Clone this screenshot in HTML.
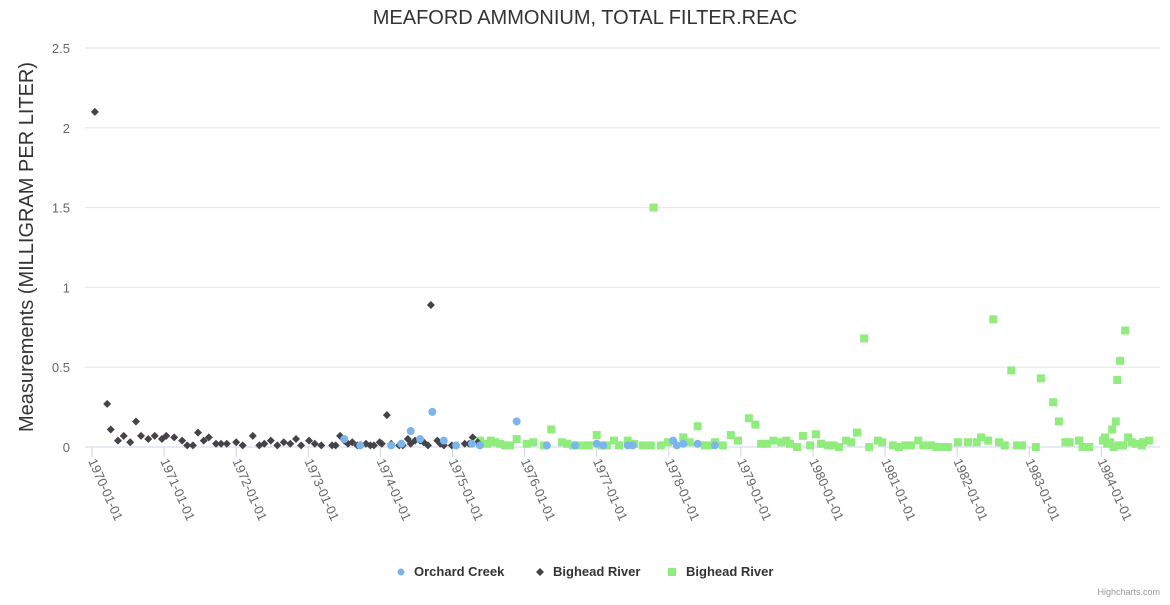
<!DOCTYPE html>
<html><head><meta charset="utf-8"><style>
body{margin:0;background:#fff;font-family:"Liberation Sans",sans-serif;}
svg text{font-family:"Liberation Sans",sans-serif;}
</style></head><body>
<svg id="chart" width="1170" height="600" xmlns="http://www.w3.org/2000/svg">
<rect width="1170" height="600" fill="#fff"/>
<text x="585" y="24" text-anchor="middle" font-size="20" fill="#333">MEAFORD AMMONIUM, TOTAL FILTER.REAC</text>
<text transform="translate(33,247) rotate(-90)" text-anchor="middle" font-size="20" fill="#333">Measurements (MILLIGRAM PER LITER)</text>
<g id="grid"></g><g id="xaxis"></g><g id="series"></g>
<g>
<g><circle cx="401" cy="572" r="3.5" fill="#7cb5ec"/><text x="414" y="576" font-size="13" font-weight="bold" fill="#333">Orchard Creek</text></g>
<g><path d="M540 568 L544 572 L540 576 L536 572 Z" fill="#434348"/><text x="553" y="576" font-size="13" font-weight="bold" fill="#333">Bighead River</text></g>
<g><rect x="668" y="568" width="8" height="8" fill="#90ed7d"/><text x="686" y="576" font-size="13" font-weight="bold" fill="#333">Bighead River</text></g>
</g>
<text x="1160" y="595" text-anchor="end" font-size="9" fill="#999">Highcharts.com</text>
</svg>
<script>
// x values: years since 1970-01-01
const yTicks=[0,0.5,1,1.5,2,2.5];
const yTickLabels=["0","0.5","1","1.5","2","2.5"];
const xTickYears=[0,1,2,3,4,5,6,7,8,9,10,11,12,13,14];
const xTickLabels=["1970-01-01","1971-01-01","1972-01-01","1973-01-01","1974-01-01","1975-01-01","1976-01-01","1977-01-01","1978-01-01","1979-01-01","1980-01-01","1981-01-01","1982-01-01","1983-01-01","1984-01-01"];
const orchardX=[3.50,3.72,4.15,4.29,4.42,4.55,4.72,4.88,5.05,5.27,5.38,5.89,6.31,6.70,7.00,7.09,7.43,7.50,8.06,8.11,8.20,8.40,8.64];
const orchardY=[0.05,0.01,0.01,0.02,0.1,0.05,0.22,0.04,0.01,0.02,0.01,0.16,0.01,0.01,0.02,0.01,0.01,0.01,0.04,0.01,0.02,0.02,0.01];
const bigheadAX=[0.04,0.21,0.26,0.36,0.44,0.53,0.61,0.68,0.78,0.87,0.97,1.03,1.14,1.25,1.32,1.40,1.47,1.55,1.62,1.72,1.79,1.87,2.00,2.09,2.23,2.32,2.39,2.48,2.57,2.66,2.75,2.83,2.90,3.01,3.09,3.18,3.33,3.38,3.44,3.50,3.55,3.61,3.68,3.73,3.80,3.86,3.91,3.99,4.02,4.09,4.15,4.26,4.29,4.31,4.38,4.42,4.48,4.55,4.60,4.66,4.70,4.79,4.83,4.88,4.99,5.05,5.17,5.23,5.28,5.35];
const bigheadAY=[2.1,0.27,0.11,0.04,0.07,0.03,0.16,0.07,0.05,0.07,0.05,0.07,0.06,0.04,0.01,0.01,0.09,0.04,0.06,0.02,0.02,0.02,0.03,0.01,0.07,0.01,0.02,0.04,0.01,0.03,0.02,0.05,0.01,0.04,0.02,0.01,0.01,0.01,0.07,0.04,0.02,0.03,0.01,0.01,0.02,0.01,0.01,0.03,0.02,0.2,0.02,0.01,0.02,0.01,0.05,0.02,0.04,0.04,0.03,0.01,0.89,0.04,0.02,0.01,0.01,0.01,0.02,0.02,0.06,0.03];
const bigheadBX=[5.38,5.48,5.53,5.59,5.66,5.73,5.80,5.89,6.03,6.12,6.27,6.37,6.52,6.59,6.67,6.73,6.84,6.89,7.00,7.07,7.14,7.24,7.31,7.43,7.52,7.64,7.75,7.79,7.89,7.99,8.20,8.29,8.40,8.50,8.56,8.64,8.75,8.86,8.96,9.11,9.20,9.28,9.36,9.45,9.56,9.63,9.68,9.78,9.86,9.96,10.04,10.11,10.21,10.29,10.36,10.46,10.53,10.61,10.71,10.78,10.90,10.96,11.11,11.19,11.28,11.36,11.46,11.53,11.64,11.71,11.78,11.87,12.01,12.15,12.27,12.33,12.43,12.50,12.58,12.66,12.75,12.83,12.90,13.09,13.16,13.33,13.41,13.50,13.56,13.69,13.74,13.83,14.02,14.05,14.08,14.12,14.15,14.17,14.20,14.22,14.24,14.26,14.30,14.33,14.37,14.42,14.48,14.56,14.58,14.66];
const bigheadBY=[0.04,0.02,0.04,0.03,0.02,0.01,0.01,0.05,0.02,0.03,0.01,0.11,0.03,0.02,0.01,0.01,0.01,0.01,0.075,0.01,0.01,0.04,0.01,0.04,0.02,0.01,0.01,1.5,0.01,0.03,0.06,0.03,0.13,0.01,0.01,0.03,0.01,0.075,0.04,0.18,0.14,0.02,0.02,0.04,0.03,0.04,0.02,0.0,0.07,0.01,0.08,0.02,0.01,0.01,0.0,0.04,0.03,0.09,0.68,0.0,0.04,0.03,0.01,0.0,0.01,0.01,0.04,0.01,0.01,0.0,0.0,0.0,0.03,0.03,0.03,0.06,0.04,0.8,0.03,0.01,0.48,0.01,0.01,0.0,0.43,0.28,0.16,0.03,0.03,0.04,0.0,0.0,0.04,0.06,0.02,0.03,0.11,0.0,0.16,0.42,0.01,0.54,0.01,0.73,0.06,0.03,0.02,0.01,0.03,0.04];

const NS='http://www.w3.org/2000/svg';
const X0=92,XS=72.1,Y0=447,YS=159.6,PL=85,PR=1160;
const xs=v=>X0+v*XS, ys=v=>Y0-v*YS;
function mk(tag,attrs,parent){const e=document.createElementNS(NS,tag);for(const k in attrs)e.setAttribute(k,attrs[k]);parent.appendChild(e);return e;}
const grid=document.getElementById('grid'),xa=document.getElementById('xaxis'),ser=document.getElementById('series');
yTicks.forEach((t,i)=>{
  const l=mk('line',{x1:PL,x2:PR,y1:ys(t),y2:ys(t),stroke:t===0?'#ccd6eb':'#e6e6e6','stroke-width':1},grid);
  
  
  const tx=mk('text',{x:70,y:ys(t)+5,'text-anchor':'end','font-size':13,fill:'#666'},grid);
  tx.textContent=yTickLabels[i];
  
  
});
xTickYears.forEach((t,i)=>{
  const x=xs(t);
  const l=mk('line',{x1:x,x2:x,y1:Y0,y2:Y0+10,stroke:'#ccd6eb','stroke-width':1},xa);
  
  
  const tx=mk('text',{transform:`translate(${x-4},${Y0+14}) rotate(66)`,'font-size':13,fill:'#666'},xa);
  tx.textContent=xTickLabels[i];
  
  
});
bigheadBX.forEach((v,i)=>{
  const r=mk('rect',{x:xs(v)-4,y:ys(bigheadBY[i])-4,width:8,height:8,fill:'#90ed7d'},ser);
  
  
});
bigheadAX.forEach((v,i)=>{
  const x=xs(v),y=ys(bigheadAY[i]);
  const p=mk('path',{d:`M${x} ${y-4}L${x+4} ${y}L${x} ${y+4}L${x-4} ${y}Z`,fill:'#434348'},ser);
  
  
});
orchardX.forEach((v,i)=>{
  const c=mk('circle',{cx:xs(v),cy:ys(orchardY[i]),r:4,fill:'#7cb5ec'},ser);
  
  
});
</script>
</body></html>
